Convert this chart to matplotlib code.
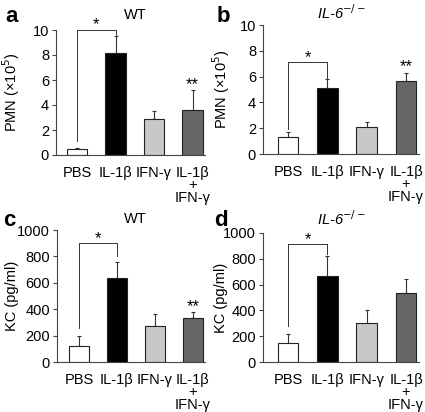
import numpy as np
import matplotlib.pyplot as plt

plt.rcParams['font.family'] = ['Liberation Sans', 'DejaVu Sans']

# data
groups = ["PBS", "IL-1β", "IFN-γ", "IL-1β\n+\nIFN-γ"]
colors = ["white", "black", "#c8c8c8", "#666666"]

pmn_wt = [0.45, 8.2, 2.9, 3.6]
pmn_wt_err = [0.12, 1.3, 0.6, 1.6]
pmn_ko = [1.3, 5.1, 2.1, 5.65]
pmn_ko_err = [0.4, 0.75, 0.4, 0.65]
kc_wt = [120, 635, 270, 330]
kc_wt_err = [75, 120, 95, 50]
kc_ko = [148, 665, 305, 535]
kc_ko_err = [72, 160, 100, 105]

panels = [
    # values, errors, ylabel, ylim, yticks, rect, xlim, bracket(y, left, right), star_y, dstar_y, label_x
    (pmn_wt, pmn_wt_err, "PMN (×10$^5$)", 10, [0, 2, 4, 6, 8, 10],
     [56/425, 1-155/412, 149/425, 125/412], (-0.545, 3.32), (10.0, 1.1, 9.55), 10.45, 5.6, 22),
    (pmn_ko, pmn_ko_err, "PMN (×10$^5$)", 10, [0, 2, 4, 6, 8, 10],
     [263/425, 1-154/412, 156/425, 129/412], (-0.636, 3.33), (7.1, 1.95, 5.9), 7.5, 6.75, 232),
    (kc_wt, kc_wt_err, "KC (pg/ml)", 1000, [0, 200, 400, 600, 800, 1000],
     [57/425, 1-362/412, 148/425, 132/412], (-0.58, 3.32), (899, 260, 800), 935, 420, 19),
    (kc_ko, kc_ko_err, "KC (pg/ml)", 1000, [0, 200, 400, 600, 800, 1000],
     [263/425, 1-362/412, 156/425, 129/412], (-0.636, 3.33), (912, 280, 840), 950, None, 228),
]

fig = plt.figure(figsize=(4.25, 4.12), dpi=100)
x = np.arange(len(groups))

for vals, errs, ylabel, ymax, yticks, rect, xlim, br, star_y, dstar_y, lab_x in panels:
    ax = fig.add_axes(rect)
    ax.bar(x, vals, width=0.53, color=colors, edgecolor="#222222", linewidth=0.8, zorder=2)
    ax.errorbar(x, vals, yerr=[np.zeros(4), errs], fmt="none", ecolor="#333333",
                elinewidth=0.8, capsize=1.5, capthick=0.8, zorder=1)
    ax.set_xlim(*xlim)
    ax.set_ylim(0, ymax)
    ax.set_yticks(yticks)
    ax.tick_params(axis="y", direction="out", length=3, width=0.8, labelsize=10.5, pad=2, color="#444444")
    ax.set_xticks(x)
    ax.set_xticklabels(groups, fontsize=10.5, linespacing=0.85, va="top")
    ax.tick_params(axis="x", length=0, pad=8)
    for s in ["top", "right"]:
        ax.spines[s].set_visible(False)
    for s in ["left", "bottom"]:
        ax.spines[s].set_linewidth(0.8)
        ax.spines[s].set_color("#444444")
    ax.set_ylabel(ylabel, fontsize=10.5)
    ax.yaxis.set_label_coords(-(rect[0] * 425 - lab_x) / (rect[2] * 425), 0.5)
    # significance bracket
    yb, yl, yr = br
    ax.plot([0, 0, 1, 1], [yl, yb, yb, yr], color="#333333", lw=0.7, clip_on=False)
    ax.text(0.5, star_y, "*", ha="center", va="center", fontsize=12, clip_on=False)
    if dstar_y is not None:
        ax.text(3, dstar_y, "**", ha="center", va="center", fontsize=12, clip_on=False)

# titles and panel letters placed in figure pixels
def fx(px):
    return px / 425

def fy(py):
    return 1 - py / 412

fig.text(fx(135), fy(15), "WT", ha="center", va="center", fontsize=10.5)
fig.text(fx(341), fy(13), "IL-6$^{-/-}$", ha="center", va="center", fontsize=10.5, style="italic")
fig.text(fx(135), fy(219), "WT", ha="center", va="center", fontsize=10.5)
fig.text(fx(341), fy(219), "IL-6$^{-/-}$", ha="center", va="center", fontsize=10.5, style="italic")

for lx, ly, lt in [(5, 22, "a"), (217, 22, "b"), (3, 226, "c"), (214, 226, "d")]:
    fig.text(fx(lx), fy(ly), lt, ha="left", va="baseline", fontsize=16, fontweight="bold")

fig.savefig("out.png", dpi=100)
